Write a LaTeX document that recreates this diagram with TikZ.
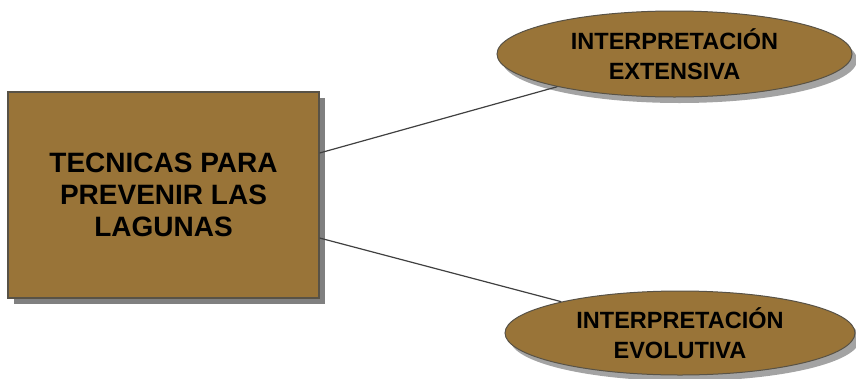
\documentclass[tikz,border=0pt]{standalone}
\usepackage{fontspec}
\setmainfont{Liberation Sans}
\usetikzlibrary{shapes, shadows}
\definecolor{boxbrown}{RGB}{153,116,56}
\definecolor{edgegray}{RGB}{88,82,70}
\begin{document}
\begin{tikzpicture}[x=1pt, y=-1pt, every node/.style = {font=\bfseries, align=center, inner sep=0pt}]

\tikzstyle{main_box} = [rectangle, draw=edgegray, line width=1.2pt, fill=boxbrown,
	minimum width=311pt, minimum height=206pt, font=\fontsize{28}{32}\selectfont\bfseries,
	drop shadow={shadow xshift=6pt, shadow yshift=-6pt, fill=black!50, opacity=1}]
\tikzstyle{idea} = [ellipse, draw=edgegray, line width=1pt, fill=boxbrown,
	font=\fontsize{23.5}{30}\selectfont\bfseries,
	drop shadow={shadow xshift=5pt, shadow yshift=-6pt, fill=black!45, opacity=0.8}]
\tikzstyle{link} = [draw=black!75, line width=1.2pt]

\useasboundingbox (0,0) rectangle (856,378);

\node[main_box] (tecnicas) at (163.5,195) {TECNICAS PARA\\PREVENIR LAS\\LAGUNAS};
\node[idea, minimum width=355pt, minimum height=86pt] (extensiva) at (674.5,54) {INTERPRETACIÓN\\EXTENSIVA};
\node[idea, minimum width=350pt, minimum height=84pt] (evolutiva) at (680,333) {INTERPRETACIÓN\\EVOLUTIVA};

\draw[link] ([yshift=42pt]tecnicas.east) -- (extensiva);
\draw[link] ([yshift=-43pt]tecnicas.east) -- (evolutiva);
\end{tikzpicture}
\end{document}
